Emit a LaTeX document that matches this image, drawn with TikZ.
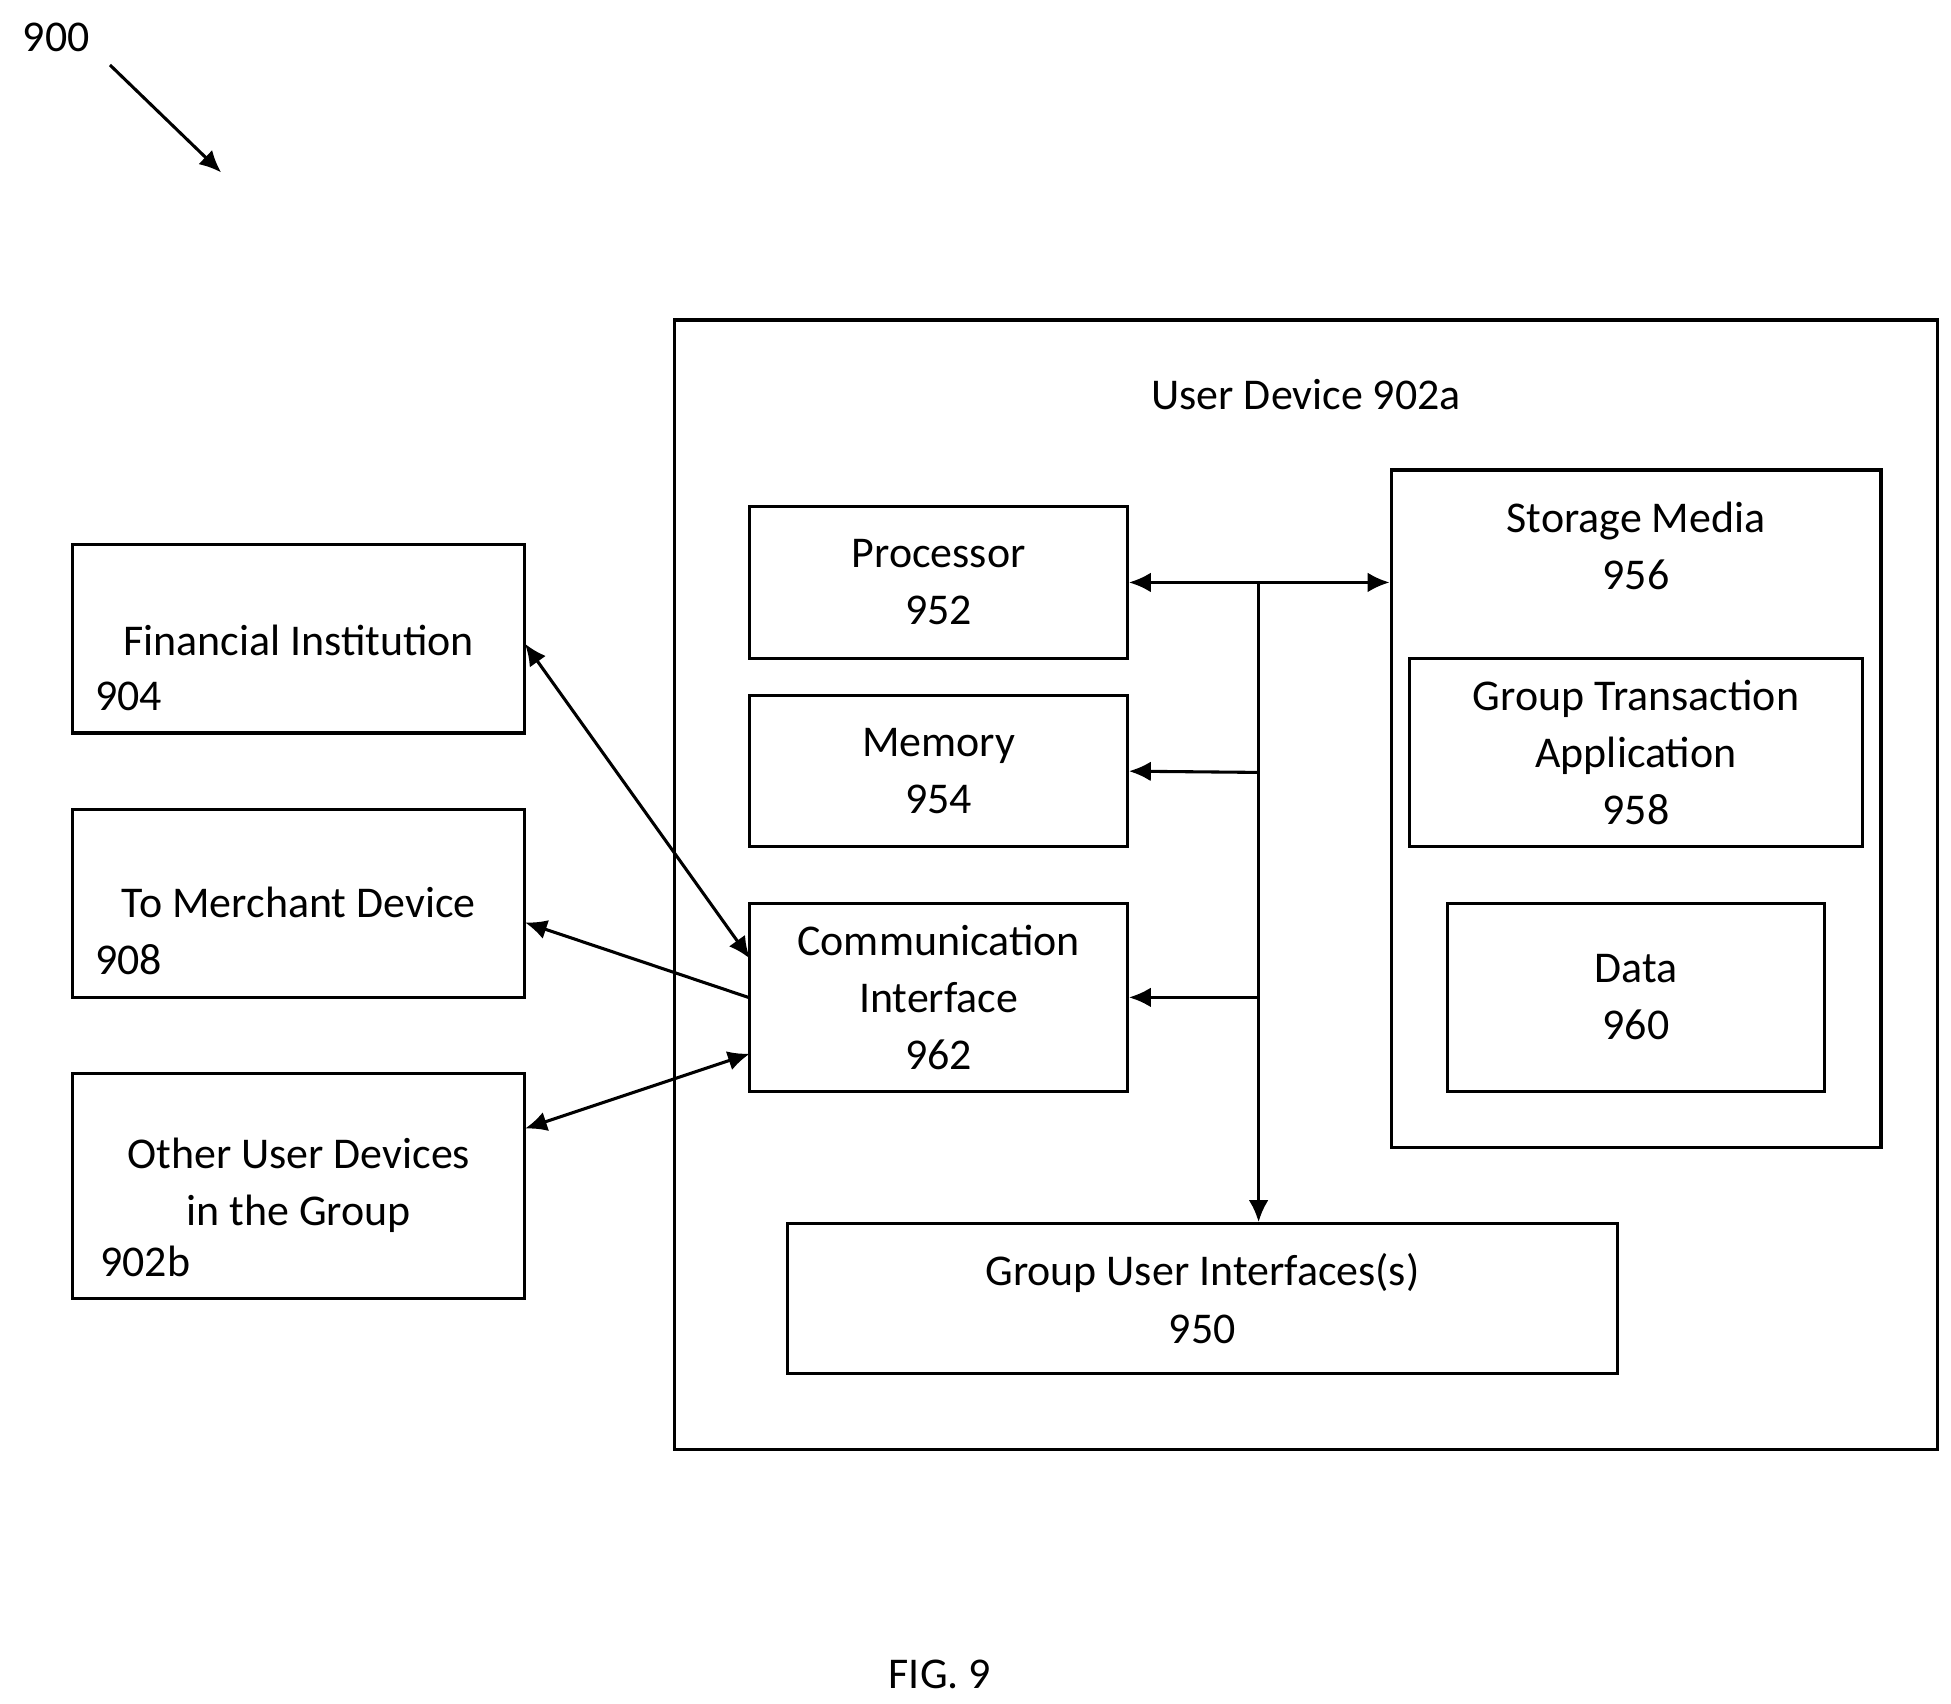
\documentclass[tikz,border=0pt]{standalone}
\usepackage{fontspec}
\setmainfont{Carlito}
\usetikzlibrary{arrows.meta}
\tikzset{
  blk/.style={draw, line width=1.4pt, rectangle, inner sep=0pt},
  lbl/.style={align=center, font=\fontsize{20}{26}\selectfont},
  link/.style={line width=1.4pt, -{Latex[length=10pt,width=9pt]}},
  dlink/.style={line width=1.4pt, {Latex[length=10pt,width=9pt]}-{Latex[length=10pt,width=9pt]}}
}
\begin{document}
\begin{tikzpicture}[x=0.02cm,y=-0.02cm]
  \useasboundingbox (0,0) rectangle (1561,1363);
  % outer device
  \draw[line width=1.4pt] (540,256) rectangle (1550,1160);
  \node[lbl] (ud) at (1045,316) {User Device 902a};
  % inner blocks
  \node[blk, minimum width=6.04cm, minimum height=2.42cm] (proc) at (751,466) {};
  \node[lbl] at (proc) {Processor\\952};
  \node[blk, minimum width=6.04cm, minimum height=2.42cm] (mem) at (751,617) {};
  \node[lbl] at (mem) {Memory\\954};
  \node[blk, minimum width=6.04cm, minimum height=3.0cm] (comm) at (751,798) {};
  \node[lbl] at (comm) {Communication\\Interface\\962};
  \node[blk, minimum width=7.84cm, minimum height=10.84cm] (stor) at (1309,647) {};
  \node[lbl] at (1309,437) {Storage Media\\956};
  \node[blk, minimum width=7.24cm, minimum height=3.02cm] (gta) at (1309,602) {};
  \node[lbl] at (gta) {Group Transaction\\Application\\958};
  \node[blk, minimum width=6.04cm, minimum height=3.0cm] (data) at (1309,798) {};
  \node[lbl] at (data) {Data\\960};
  \node[blk, minimum width=13.28cm, minimum height=2.4cm] (gui) at (962,1039) {};
  \node[lbl] at (gui) {Group User Interfaces(s)\\950};
  % outside blocks
  \node[blk, minimum width=7.24cm, minimum height=3.02cm] (fin) at (239,511) {};
  \node[lbl] at (239,512) {Financial Institution};
  \node[lbl, anchor=west] at (70,557) {904};
  \node[blk, minimum width=7.24cm, minimum height=3.0cm] (merch) at (239,723) {};
  \node[lbl] at (239,722) {To Merchant Device};
  \node[lbl, anchor=west] at (70,768) {908};
  \node[blk, minimum width=7.24cm, minimum height=3.6cm] (oth) at (239,949) {};
  \node[lbl] at (239,948) {Other User Devices\\in the Group};
  \node[lbl, anchor=west] at (74,1009) {902b};
  % bus
  \coordinate (bt) at (1007,466);
  \coordinate (bm) at (1007,618);
  \coordinate (bc) at (1007,798);
  \draw[dlink] (proc.east) -- (stor.west |- proc.east);
  \draw[link] (bt) -- (bt |- gui.north);
  \draw[link] (bm) -- (mem.east);
  \draw[link] (bc) -- (comm.east);
  % external links
  \draw[dlink] (420,515) -- (600,767);
  \draw[link] (comm.west) -- (420,738);
  \draw[dlink] (600,843) -- (420,903);
  % figure labels
  \node[lbl] (ref) at (45,30) {900};
  \coordinate (rt) at (177,138);
  \draw[link] (88,52) -- (rt);
  \node[lbl] (fig) at (752,1340) {FIG. 9};
\end{tikzpicture}
\end{document}
